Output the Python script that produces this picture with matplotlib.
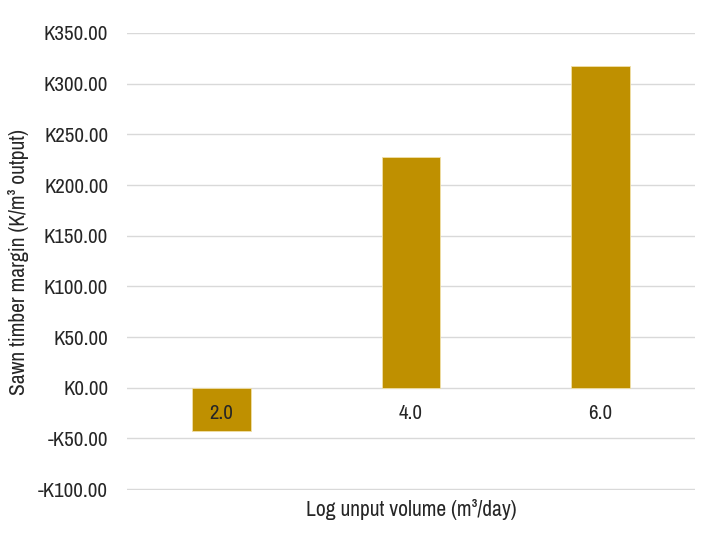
import matplotlib
matplotlib.use("Agg")
from matplotlib import pyplot as plt
from matplotlib import font_manager
import numpy as np

categories = ["2.0", "4.0", "6.0"]
margins = [-43, 228, 317]
y_ticks = [-100, -50, 0, 50, 100, 150, 200, 250, 300, 350]

# narrow sans like the original; first one that is installed
names = {f.name for f in font_manager.fontManager.ttflist}
family = next((n for n in ["Liberation Sans Narrow", "Archivo Narrow", "Roboto Condensed",
                           "PT Sans Narrow", "Liberation Sans"] if n in names), "DejaVu Sans")
plt.rcParams["font.family"] = [family, "DejaVu Sans"]

text_color = "#262626"
bar_color = "#BF9000"
fs = 15

fig = plt.figure(figsize=(7.13, 5.5), dpi=100)
ax = fig.add_axes([0.178, 0.109, 0.797, 0.831])

x = np.arange(len(categories))
ax.bar(x, margins, width=0.31, color=bar_color, edgecolor="#f0dfa8", linewidth=0.6, zorder=2)

for xi, lab in zip(x, categories):
    ax.annotate(lab, (xi, 0), xytext=(0, -18.5), textcoords="offset points",
                ha="center", va="center", fontsize=fs, color=text_color, zorder=5)

ax.set_xlim(-0.5, len(categories) - 0.5)
ax.set_ylim(-101, 350)
ax.set_yticks(y_ticks)
ax.set_yticklabels([("-K%.2f" % abs(v)) if v < 0 else ("K%.2f" % v) for v in y_ticks])
ax.set_xticks([])
ax.grid(axis="y", color="#d9d9d9", linewidth=1)
ax.set_axisbelow(True)
for s in ax.spines.values():
    s.set_visible(False)
ax.tick_params(axis="y", length=0, pad=13.5, labelsize=fs, labelcolor=text_color)

ax.set_ylabel("Sawn timber margin (K/m³ output)", fontsize=15.5, color=text_color)
ax.yaxis.set_label_coords(-0.172, 0.5)
ax.set_xlabel("Log unput volume (m³/day)", fontsize=15.5, color=text_color)
ax.xaxis.set_label_coords(0.5, -0.02)

fig.savefig("out.png", dpi=100)
